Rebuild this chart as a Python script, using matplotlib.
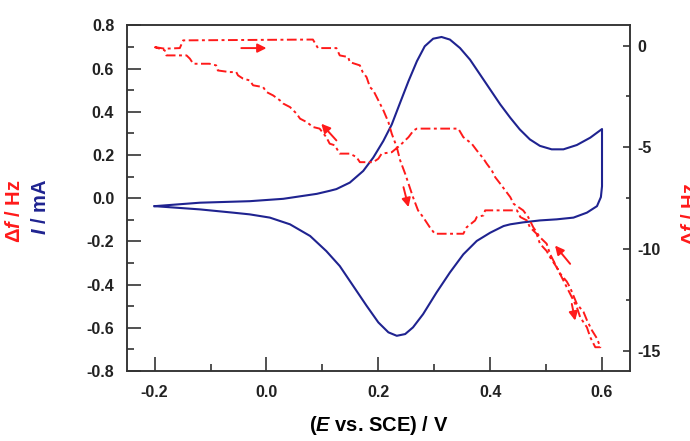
import matplotlib
matplotlib.use("Agg")
import matplotlib.pyplot as plt
from matplotlib.ticker import MultipleLocator

plt.rcParams['font.family'] = ['Liberation Sans', 'DejaVu Sans']
plt.rcParams['font.weight'] = 'bold'
plt.rcParams['axes.unicode_minus'] = False
plt.rcParams['mathtext.fontset'] = 'custom'
plt.rcParams['mathtext.it'] = 'Liberation Sans:italic:bold'
plt.rcParams['mathtext.rm'] = 'Liberation Sans:bold'

# cyclic voltammogram (E / V, I / mA)
cv_E = [-0.200, -0.119, -0.030, 0.030, 0.090, 0.113, 0.125, 0.149, 0.173, 0.191,
        0.209, 0.224, 0.239, 0.254, 0.269, 0.283, 0.298, 0.313, 0.328, 0.346,
        0.364, 0.382, 0.400, 0.418, 0.436, 0.453, 0.471, 0.489, 0.510, 0.531,
        0.555, 0.579, 0.600,
        0.600, 0.600, 0.598, 0.591, 0.573, 0.549, 0.519, 0.489, 0.459,
        0.436, 0.424, 0.400, 0.376, 0.352, 0.328, 0.304, 0.280, 0.262, 0.248,
        0.233, 0.218, 0.200, 0.179, 0.155, 0.131, 0.107, 0.078, 0.042, 0.006,
        -0.030, -0.060, -0.119, -0.200]
cv_I = [-0.037, -0.021, -0.014, -0.003, 0.020, 0.034, 0.042, 0.072, 0.126, 0.188,
        0.265, 0.341, 0.442, 0.542, 0.634, 0.703, 0.738, 0.746, 0.734, 0.695,
        0.641, 0.572, 0.503, 0.434, 0.372, 0.318, 0.272, 0.242, 0.226, 0.226,
        0.246, 0.280, 0.320,
        0.180, 0.055, 0.005, -0.037, -0.067, -0.090, -0.098, -0.103, -0.112,
        -0.121, -0.129, -0.160, -0.198, -0.260, -0.344, -0.437, -0.537, -0.598, -0.629,
        -0.637, -0.621, -0.575, -0.498, -0.406, -0.314, -0.245, -0.175, -0.121, -0.090,
        -0.075, -0.067, -0.052, -0.037]

# frequency shift (E / V, df / Hz)
qcm_E = [-0.200, -0.182, -0.155, -0.149, 0.083, 0.092, 0.125, 0.131, 0.146, 0.149,
         0.167, 0.172, 0.179, 0.185, 0.191, 0.200, 0.209, 0.218, 0.224, 0.233,
         0.239, 0.248, 0.254, 0.262, 0.271, 0.280, 0.292, 0.301, 0.352, 0.358,
         0.373, 0.376, 0.388, 0.391, 0.448, 0.454, 0.466, 0.471, 0.483, 0.489,
         0.501, 0.507, 0.519, 0.525, 0.537, 0.543, 0.549, 0.555, 0.567, 0.573,
         0.582, 0.591, 0.597,
         0.588, 0.579, 0.573, 0.561, 0.555, 0.546, 0.528, 0.507, 0.501, 0.489,
         0.477, 0.468, 0.459, 0.442, 0.436, 0.427, 0.418, 0.409, 0.403, 0.394,
         0.388, 0.376, 0.367, 0.352, 0.343, 0.269, 0.263, 0.254, 0.248, 0.239,
         0.224, 0.206, 0.200, 0.191, 0.167, 0.161, 0.149, 0.131, 0.122, 0.113,
         0.107, 0.095, 0.083, 0.072, 0.060, 0.054, 0.042, 0.030, 0.024, 0.012,
         0.000, -0.006, -0.024, -0.030, -0.042, -0.051, -0.054, -0.066, -0.087, -0.090,
         -0.102, -0.131, -0.137, -0.143, -0.179, -0.182, -0.200]
qcm_df = [-0.07, -0.15, -0.12, 0.26, 0.30, -0.12, -0.12, -0.48, -0.56, -0.81,
          -0.97, -1.30, -1.55, -2.04, -2.20, -2.69, -3.18, -3.76, -4.33, -4.99,
          -5.64, -6.30, -6.79, -7.45, -8.10, -8.43, -8.93, -9.25, -9.25, -8.93,
          -8.60, -8.43, -8.35, -8.10, -8.10, -8.43, -8.60, -8.93, -9.25, -9.74,
          -10.10, -10.40, -10.90, -11.20, -11.60, -11.90, -12.30, -12.70, -13.10, -13.50,
          -14.00, -14.40, -14.83,
          -14.83, -14.34, -13.85, -13.36, -12.86, -12.37, -11.39, -10.24, -9.74, -9.42,
          -8.93, -8.43, -8.10, -7.78, -7.45, -7.12, -6.79, -6.47, -6.14, -5.81,
          -5.56, -5.15, -4.82, -4.50, -4.08, -4.08, -4.17, -4.50, -4.66, -4.90,
          -5.24, -5.31, -5.56, -5.73, -5.73, -5.48, -5.31, -5.31, -4.90, -4.82,
          -4.50, -4.08, -4.00, -3.76, -3.59, -3.35, -3.02, -2.85, -2.69, -2.45,
          -2.28, -2.04, -1.95, -1.71, -1.62, -1.46, -1.30, -1.30, -1.22, -0.97,
          -0.89, -0.89, -0.64, -0.48, -0.48, -0.23, -0.07]

# scan direction arrows: (tail E, tail df, tip E, tip df)
arrows = [(-0.045, -0.12, 0.000, -0.12),
          (0.125, -4.66, 0.098, -3.84),
          (0.245, -6.96, 0.254, -7.94),
          (0.543, -10.73, 0.516, -9.83),
          (0.546, -12.70, 0.552, -13.52)]

blue = '#1f2390'
red = '#ff1a1a'

fig = plt.figure(figsize=(6.9, 4.41), dpi=100)
ax = fig.add_axes([0.1836, 0.1587, 0.7294, 0.7839])
ax2 = ax.twinx()

ax.plot(cv_E, cv_I, color=blue, lw=1.5, solid_joinstyle='round')
ax2.plot(qcm_E, qcm_df, color=red, lw=1.4, linestyle=(0, (5, 1.8, 1.5, 1.8)))
for x0, y0, x1, y1 in arrows:
    ax2.annotate('', xy=(x1, y1), xytext=(x0, y0),
                 arrowprops=dict(arrowstyle='-|>', color=red, lw=1.4,
                                 mutation_scale=13, shrinkA=0, shrinkB=0))

ax.set_xlim(-0.25, 0.65)
ax.set_ylim(-0.8, 0.8)
ax2.set_ylim(-16, 1)

ax.xaxis.set_major_locator(MultipleLocator(0.2))
ax.xaxis.set_minor_locator(MultipleLocator(0.1))
ax.yaxis.set_major_locator(MultipleLocator(0.2))
ax.yaxis.set_minor_locator(MultipleLocator(0.1))
ax2.yaxis.set_major_locator(MultipleLocator(5))
ax2.yaxis.set_minor_locator(MultipleLocator(2.5))

ax.tick_params(which='both', direction='in', top=False, right=False, width=1.1,
               labelsize=11.5, colors='#222222')
ax.tick_params(which='major', length=10, pad=9)
ax.tick_params(which='minor', length=5)
ax.tick_params(axis='x', which='major', pad=10)
ax2.tick_params(which='both', direction='in', width=1.1, labelsize=11.5, colors='#222222')
ax2.tick_params(which='major', length=5, pad=5)
ax2.tick_params(which='minor', length=3)

ax.xaxis.set_major_formatter(plt.FormatStrFormatter('%.1f'))
ax.yaxis.set_major_formatter(plt.FormatStrFormatter('%.1f'))
ax2.yaxis.set_major_formatter(plt.FormatStrFormatter('%d'))

for a in (ax, ax2):
    for s in a.spines.values():
        s.set_linewidth(1.1)
        s.set_color('#333333')

ax.set_xlabel(r'($\mathit{E}$ vs. SCE) / V', fontsize=14.5, fontweight='bold', labelpad=10)

fig.text(15 / 690, 1 - 211 / 441, r'Δ$\mathit{f}$ / Hz', color=red, rotation=90,
         ha='center', va='center', fontsize=14.5, fontweight='bold')
fig.text(40 / 690, 1 - 207 / 441, r'$\mathit{I}$ / mA', color=blue, rotation=90,
         ha='center', va='center', fontsize=14.5, fontweight='bold')
# right-hand label runs off the edge of the figure, as in the original
fig.text(681 / 690, 1 - 214 / 441, r'Δ$\mathit{f}$ / Hz', color=red, rotation=90,
         ha='left', va='center', fontsize=14.5, fontweight='bold')

fig.savefig('out.png', dpi=100)
